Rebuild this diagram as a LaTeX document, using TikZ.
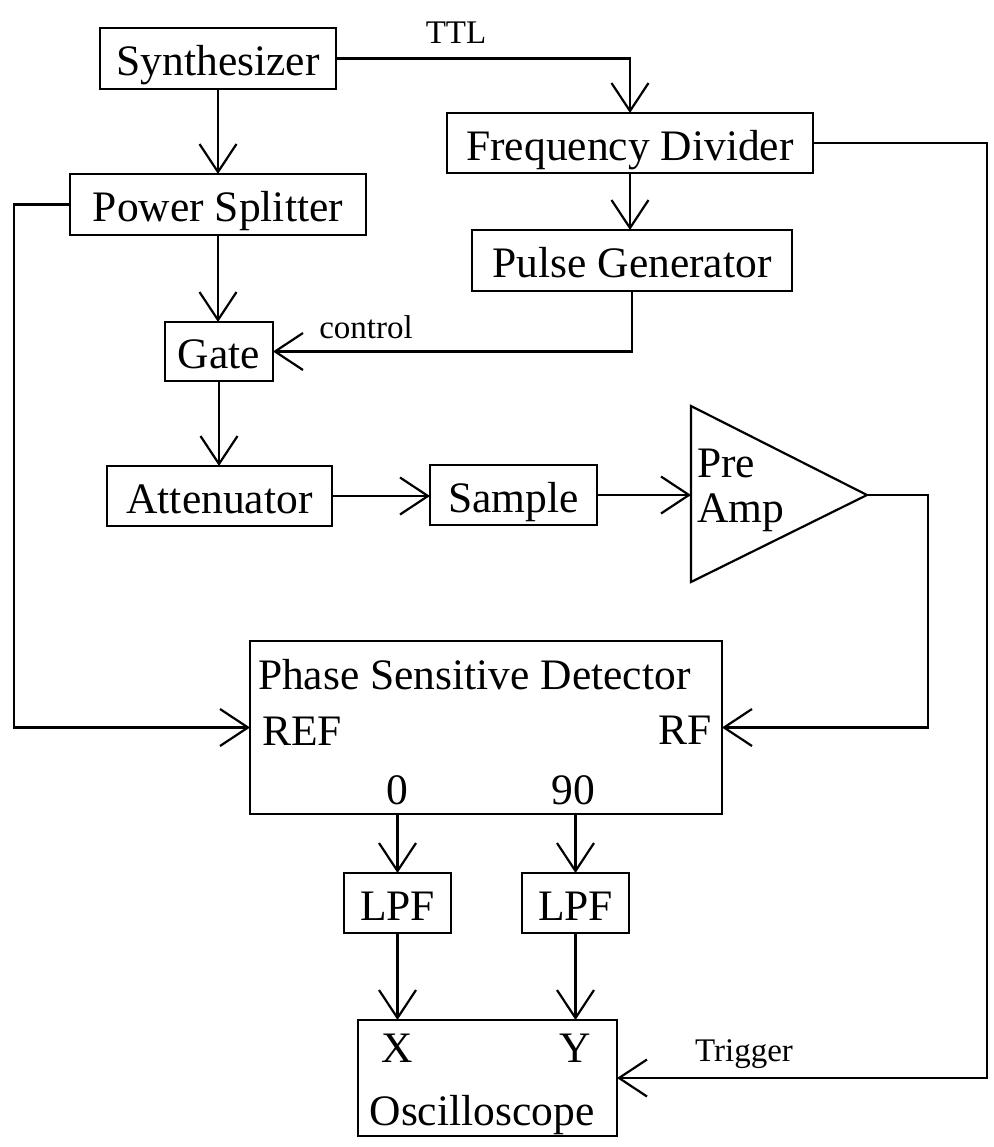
\documentclass[tikz,border=0pt]{standalone}
\usepackage{fontspec}
\setmainfont{Liberation Serif}
\usetikzlibrary{arrows.meta}

\newcommand{\dgbig}{\fontsize{21.75pt}{26pt}\selectfont}
\newcommand{\dgsmall}{\fontsize{16.5pt}{20pt}\selectfont}

\begin{document}
\begin{tikzpicture}[x=0.5pt, y=-0.5pt,
  line width=1.1pt,
  >={Straight Barb[length=14pt, width=18.5pt]},
  every node/.style={inner sep=0pt, outer sep=0pt},
  box/.style={draw, line width=1.1pt, font=\dgbig, text height=17.4pt, text depth=0pt},
  biglbl/.style={font=\dgbig},
  smalllbl/.style={font=\dgsmall, anchor=base}]

\useasboundingbox (0,0) rectangle (993,1147);

% blocks
\node[box, minimum width=118pt, minimum height=30.5pt] (synth) at (218,58.5) {Synthesizer};
\node[box, minimum width=148pt, minimum height=30.5pt] (ps) at (218,204.5) {Power Splitter};
\node[box, minimum width=183pt, minimum height=30pt] (fd) at (630,143) {Frequency Divider};
\node[box, minimum width=160pt, minimum height=30.5pt] (pg) at (632,260.5) {Pulse Generator};
\node[box, minimum width=54pt, minimum height=29.5pt] (gate) at (219,351.5) {Gate};
\node[box, minimum width=112.5pt, minimum height=30pt] (att) at (219.5,496) {Attenuator};
\node[box, minimum width=83.5pt, minimum height=30pt] (sample) at (513.5,495) {Sample};
\node[box, minimum width=236pt, minimum height=86.5pt] (psd) at (486,727.5) {};
\node[box, minimum width=53.5pt, minimum height=30pt] (lpf1) at (397.5,903) {LPF};
\node[box, minimum width=53.5pt, minimum height=30pt] (lpf2) at (575.5,903) {LPF};
\node[box, minimum width=129.5pt, minimum height=58pt] (osc) at (487.5,1078) {};

% pre-amplifier triangle
\coordinate (amp-in) at (691,495);
\coordinate (amp-out) at (867,495);
\draw (691,406) -- (amp-out) -- (691,582) -- cycle;
\node[biglbl, anchor=base west] (pre) at (697,477) {Pre};
\node[biglbl, anchor=base west] (amplbl) at (697,522) {Amp};

% labels inside the detector and the oscilloscope
\node[biglbl, anchor=base west] (psdtitle) at (258,689) {Phase Sensitive Detector};
\node[biglbl, anchor=base west] (ref) at (262,745) {REF};
\node[biglbl, anchor=base east] (rf) at (712,744) {RF};
\node[biglbl, anchor=base] (ph0) at (397,804) {0};
\node[biglbl, anchor=base] (ph90) at (573,804) {90};
\node[biglbl, anchor=base] (xin) at (397,1062) {X};
\node[biglbl, anchor=base] (yin) at (575,1062) {Y};
\node[biglbl, anchor=base] (osctitle) at (482,1125) {Oscilloscope};

% corner points of the routed lines
\coordinate (refcorner) at (14,204.5);
\coordinate (trigcorner) at (987,143);
\coordinate (ampcorner) at (928,495);

% connections
\draw[->] (synth.east) -| (fd.north);
\node[smalllbl] (ttl) at (456,43) {TTL};

\draw[->] (synth.south) -- (synth.south |- ps.north);
\draw[->] (ps.west) -- (refcorner) |- (psd.west);
\draw[->] (ps.south) -- (ps.south |- gate.north);
\draw[->] (fd.south) -- (fd.south |- pg.north);

\draw[->] (pg.south) |- (gate.east);
\node[smalllbl] (ctl) at (366,338) {control};

\draw[->] (gate.south) -- (gate.south |- att.north);
\draw[->] (att.east) -- (att.east -| sample.west);
\draw[->] (sample.east) -- (amp-in);
\draw[->] (amp-out) -- (ampcorner) |- (psd.east);

\draw[->] (lpf1.north |- psd.south) -- (lpf1.north);
\draw[->] (lpf2.north |- psd.south) -- (lpf2.north);
\draw[->] (lpf1.south) -- (lpf1.south |- osc.north);
\draw[->] (lpf2.south) -- (lpf2.south |- osc.north);

\draw[->] (fd.east) -- (trigcorner) |- (osc.east);
\node[smalllbl] (trig) at (744,1061) {Trigger};

\end{tikzpicture}
\end{document}
